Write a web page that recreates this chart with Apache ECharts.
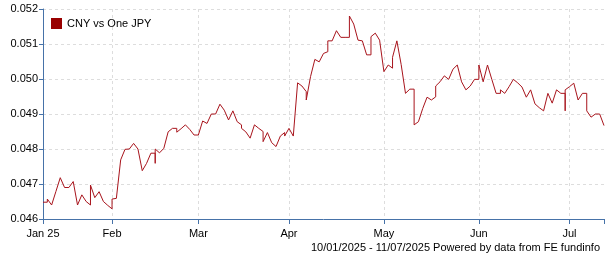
<!DOCTYPE html>
<html>
<head>
<meta charset="utf-8">
<script src="https://cdn.jsdelivr.net/npm/echarts@6/dist/echarts.min.js"></script>
<style>
html,body{margin:0;padding:0;background:#fff;}
#chart{width:605px;height:260px;}
</style>
</head>
<body>
<div id="chart"></div>
<script>
// Trading-day range shown
var startDate = '2025-01-10';
var endDate = '2025-07-11';
// Axis tick labels and the first trading day of each month
var tickLabels = ['Jan 25', 'Feb', 'Mar', 'Apr', 'May', 'Jun', 'Jul'];
var tickDates = ['2025-01-10', '2025-02-03', '2025-03-03', '2025-04-01', '2025-05-01', '2025-06-02', '2025-07-01'];
var yTicks = [0.046, 0.047, 0.048, 0.049, 0.050, 0.051, 0.052];
var seriesName = 'CNY vs One JPY';
// One entry per trading day; a list holds several readings on the same day
var values = [
  0.04648, [0.04648, 0.04657], 0.04640, 0.04679, 0.04718, 0.04690, 0.04690, 0.04707, 0.04640, 0.04669,
  0.04650, [0.04640, 0.04697], 0.04661, 0.04678, 0.04650, 0.04639,
  [0.04629, 0.04657], 0.04659, 0.04769, 0.04799, 0.04800, 0.04816, 0.04800, 0.04738, 0.04759, 0.04788,
  [0.04788, 0.04759, 0.04800], 0.04789, 0.04802, 0.04849, 0.04859, [0.04859, 0.04848], 0.04858, 0.04869, 0.04856, 0.04840,
  0.04840, 0.04880, 0.04873, 0.04900, 0.04900, 0.04928, 0.04911, 0.04883, 0.04909, 0.04878,
  [0.04869, 0.04859], 0.04849, 0.04831, 0.04869, 0.04859, [0.04850, 0.04821], 0.04847, 0.04818, 0.04807, 0.04837,
  [0.04847, 0.04837],
  0.04859, 0.04837, 0.04989, 0.04980, [0.04964, 0.04940], 0.05007, 0.05056, 0.05049, 0.05073, [0.05078, 0.05109],
  0.05109, 0.05138, 0.05119, 0.05119, [0.05119, 0.05180], 0.05157, 0.05111, 0.05109, 0.05069, [0.05069, 0.05121],
  0.05131, 0.05111,
  0.05021, 0.05040, [0.05031, 0.05062], 0.05109, 0.05041, 0.04959, 0.04971, [0.04971, 0.04869], 0.04878, 0.04916,
  0.04948, 0.04940, [0.04949, 0.04980], 0.04992, 0.05009, 0.04999, 0.05028, 0.05040, 0.04992, 0.04969,
  0.04980, 0.04999,
  [0.04999, 0.05040], 0.04992, 0.05040, 0.04999, 0.04959, [0.04959, 0.04969], 0.04959, 0.04978, 0.04999, 0.04989,
  0.04977, 0.04948, 0.04969, 0.04929, 0.04918, 0.04909, 0.04959, 0.04931, 0.04969, 0.04959,
  [0.04959, 0.04909, 0.04969],
  0.04978, 0.04988, 0.04940, 0.04959, [0.04959, 0.04909], 0.04891, 0.04900, 0.04900, 0.04867
];

function pad(n){return (n<10?'0':'')+n;}
function businessDays(a, b){
  var out = [];
  var d = new Date(a + 'T00:00:00Z');
  var e = new Date(b + 'T00:00:00Z');
  while (d <= e) {
    var w = d.getUTCDay();
    if (w !== 0 && w !== 6) out.push(d.getUTCFullYear() + '-' + pad(d.getUTCMonth()+1) + '-' + pad(d.getUTCDate()));
    d.setUTCDate(d.getUTCDate() + 1);
  }
  return out;
}
var dates = businessDays(startDate, endDate);
var points = [];
values.forEach(function(v, i){
  (Array.isArray(v) ? v : [v]).forEach(function(x){ points.push([i, x]); });
});
var tickIdx = {};
tickDates.forEach(function(d, k){ tickIdx[d] = k; });
function isMonthStart(i){ return tickIdx.hasOwnProperty(dates[i]); }

var axisColor = '#4672a8';
var font = 'Liberation Sans, Arial, sans-serif';
var chart = echarts.init(document.getElementById('chart'), null, {renderer: 'canvas'});
chart.setOption({
  animation: false,
  backgroundColor: '#ffffff',
  textStyle: {fontFamily: font},
  grid: {left: 43, right: 1, top: 9, bottom: 41, containLabel: false},
  legend: {
    show: true, left: 46, top: 13, icon: 'rect', itemWidth: 11, itemHeight: 11, itemGap: 5,
    textStyle: {fontFamily: font, fontSize: 11, color: '#000'},
    data: [seriesName]
  },
  xAxis: {
    type: 'category', data: dates, boundaryGap: false,
    axisLine: {show: true, lineStyle: {color: axisColor, width: 1}},
    axisTick: {show: true, length: 5, lineStyle: {color: axisColor},
      interval: function(i){ return isMonthStart(i) || i === dates.length - 1; }},
    axisLabel: {show: true, margin: 9, fontFamily: font, fontSize: 11, color: '#000',
      interval: function(i){ return isMonthStart(i); },
      formatter: function(v){ return tickIdx.hasOwnProperty(v) ? tickLabels[tickIdx[v]] : ''; }},
    splitLine: {show: true, lineStyle: {color: '#dddddd', type: [3, 3], width: 1},
      interval: function(i){ return isMonthStart(i) && i > 0; }}
  },
  yAxis: {
    type: 'value', min: yTicks[0], max: yTicks[yTicks.length-1], interval: 0.001,
    axisLine: {show: true, lineStyle: {color: axisColor, width: 1}},
    axisTick: {show: true, length: 4, lineStyle: {color: axisColor}},
    axisLabel: {show: true, margin: 5, fontFamily: font, fontSize: 11, color: '#000',
      formatter: function(v){ return v.toFixed(3); }},
    splitLine: {show: true, lineStyle: {color: '#dddddd', type: [3, 3], width: 1}}
  },
  series: [{
    name: seriesName, type: 'line', data: points, showSymbol: false, symbol: 'none',
    color: '#990000',
    lineStyle: {color: '#a8141c', width: 1},
    itemStyle: {color: '#990000'}
  }],
  graphic: [{
    type: 'text', right: 5, top: 242,
    style: {text: '10/01/2025 - 11/07/2025 Powered by data from FE fundinfo', fontFamily: font, fontSize: 11, fill: '#000'}
  }]
});
</script>
</body>
</html>
